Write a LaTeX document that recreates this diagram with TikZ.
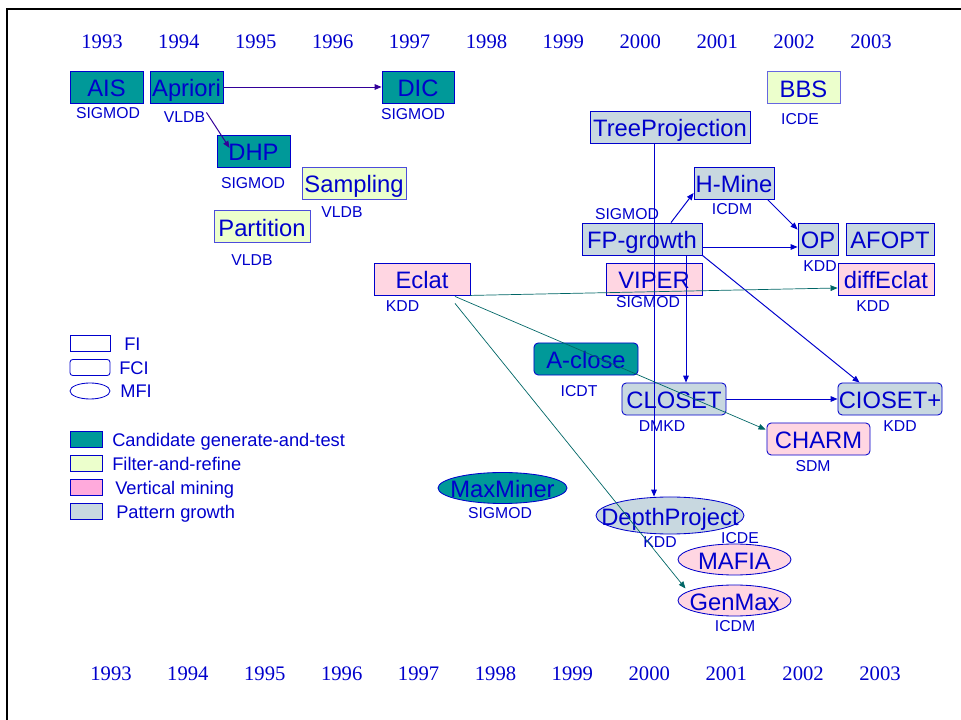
\documentclass[tikz,border=0pt]{standalone}
\usepackage{fontspec}
\setmainfont{Liberation Sans}
\newfontfamily\yearfont{Liberation Serif}
\usetikzlibrary{positioning,arrows.meta,shapes.geometric}

\definecolor{inkblue}{RGB}{0,0,204}
\definecolor{arrowpurple}{RGB}{51,0,153}
\definecolor{arrowteal}{RGB}{0,102,102}
\definecolor{candfill}{RGB}{0,153,153}
\definecolor{filtfill}{RGB}{236,255,204}
\definecolor{vertfill}{RGB}{255,214,226}
\definecolor{vertleg}{RGB}{255,170,220}
\definecolor{growfill}{RGB}{200,216,224}

\begin{document}
\begin{tikzpicture}[
    x=0.025cm, y=-0.025cm,
    % Anni sull'asse
    year/.style={font=\yearfont\fontsize{14.7}{16}\selectfont, text=inkblue, inner sep=0pt},
    % Algoritmi FI (rettangoli)
    fibox/.style={
        rectangle,
        draw=inkblue,
        line width=0.6pt,
        inner sep=0pt,
        minimum height=0.8cm,
        text=inkblue,
        text height=13.6pt, text depth=0pt,
        font=\fontsize{16.9}{18}\selectfont
    },
    % Algoritmi FCI (rettangoli arrotondati)
    fcibox/.style={fibox, rounded corners=3pt},
    % Algoritmi MFI (ellissi)
    mfi/.style={
        ellipse,
        draw=inkblue,
        line width=0.6pt,
        inner sep=0pt,
        minimum height=0.775cm
    },
    every label/.style={text=inkblue, inner sep=0pt, text height=13.6pt, text depth=0pt,
        font=\fontsize{16.9}{18}\selectfont},
    % Conferenze
    venue/.style={font=\fontsize{11.2}{12}\selectfont, text=inkblue, inner sep=0pt},
    % Legenda
    legend/.style={font=\fontsize{13}{14}\selectfont, text=inkblue, inner sep=0pt,
        text height=9.3pt, text depth=0pt, anchor=west},
    swatch/.style={rectangle, draw=inkblue, line width=0.6pt, inner sep=0pt,
        minimum width=0.8cm, minimum height=0.4cm},
    % Frecce
    arrow/.style={->, >={Triangle[length=5pt,width=4pt]}, line width=0.7pt, color=inkblue},
    oldarrow/.style={arrow, color=arrowpurple},
    vertarrow/.style={arrow, color=arrowteal, line width=0.5pt},
    frame/.style={line width=2pt, black}
]
\useasboundingbox (0,0) rectangle (961,720);

% Cornice
\draw[frame] (7,720) -- (7,9) -- (961,9);

% Anni in alto e in basso
\foreach \yr [count=\i from 0] in {1993,...,2003} {
    \node[year] (top\yr) at ({102+76.9*\i},42) {\yr};
    \node[year] (bot\yr) at ({111+76.9*\i},674) {\yr};
}

% Candidate generate-and-test
\node[fibox, fill=candfill, minimum width=1.825cm] (AIS) at (106.5,87) {AIS};
\node[venue] (AISv) at (108,113) {SIGMOD};
\node[fibox, fill=candfill, minimum width=1.825cm] (Apriori) at (186.5,87) {Apriori};
\node[venue] (Aprioriv) at (184.5,117) {VLDB};
\node[fibox, fill=candfill, minimum width=1.8cm] (DIC) at (418,87) {DIC};
\node[venue] (DICv) at (413,114) {SIGMOD};
\node[fibox, fill=candfill, minimum width=1.825cm] (DHP) at (253.5,151) {DHP};
\node[venue] (DHPv) at (253,183) {SIGMOD};
\node[fcibox, fill=candfill, minimum width=2.6cm] (Aclose) at (586,359) {A-close};
\node[venue] (Aclosev) at (579,391) {ICDT};
\node[mfi, fill=candfill, minimum width=3.225cm, label=center:MaxMiner] (MaxMiner) at (502.5,488) {};
\node[venue] (MaxMinerv) at (500,513) {SIGMOD};

% Filter-and-refine
\node[fibox, fill=filtfill, draw=inkblue!70, minimum width=2.6cm] (Sampling) at (354,183) {Sampling};
\node[venue] (Samplingv) at (342,212) {VLDB};
\node[fibox, fill=filtfill, draw=inkblue!70, minimum width=2.4cm] (Partition) at (262,226.5) {Partition};
\node[venue] (Partitionv) at (252,260) {VLDB};
\node[fibox, fill=filtfill, draw=inkblue!60, minimum width=1.825cm] (BBS) at (803.5,87.5) {BBS};
\node[venue] (BBSv) at (800,119) {ICDE};

% Vertical mining
\node[fibox, fill=vertfill, minimum width=2.4cm] (Eclat) at (422,279) {Eclat};
\node[venue] (Eclatv) at (402.5,306) {KDD};
\node[fibox, fill=vertfill, minimum width=2.4cm] (VIPER) at (654,279) {VIPER};
\node[venue] (VIPERv) at (648,302) {SIGMOD};
\node[fibox, fill=vertfill, minimum width=2.4cm] (diffEclat) at (886,279) {diffEclat};
\node[venue] (diffEclatv) at (873,306) {KDD};
\node[fcibox, fill=vertfill, minimum width=2.575cm] (CHARM) at (818.5,439) {CHARM};
\node[venue] (CHARMv) at (813,466) {SDM};
\node[mfi, fill=vertfill, minimum width=2.825cm, label=center:MAFIA] (MAFIA) at (734.5,559.5) {};
\node[venue] (MAFIAv) at (740,538) {ICDE};
\node[mfi, fill=vertfill, minimum width=2.825cm, label=center:GenMax] (GenMax) at (734.5,600.5) {};
\node[venue] (GenMaxv) at (735,626) {ICDM};

% Pattern growth
\node[fibox, fill=growfill, minimum width=4cm] (TreeProjection) at (670,127) {TreeProjection};
\node[fibox, fill=growfill, minimum width=2cm] (HMine) at (734,183) {H-Mine};
\node[venue] (HMinev) at (732,209) {ICDM};
\node[fibox, fill=growfill, minimum width=3cm] (FPgrowth) at (642,239) {FP-growth};
\node[venue] (FPgrowthv) at (627,214) {SIGMOD};
\node[fibox, fill=growfill, minimum width=1cm] (OP) at (818,239) {OP};
\node[venue] (OPv) at (820,266) {KDD};
\node[fibox, fill=growfill, minimum width=2.2cm] (AFOPT) at (890,239) {AFOPT};
\node[fcibox, fill=growfill, minimum width=2.6cm] (CLOSET) at (674,399) {CLOSET};
\node[venue] (CLOSETv) at (662,426) {DMKD};
\node[fcibox, fill=growfill, minimum width=2.6cm] (CLOSETplus) at (890,399) {CIOSET+};
\node[venue] (CLOSETplusv) at (900,426) {KDD};
\node[mfi, fill=growfill, minimum width=3.7cm, minimum height=0.925cm, label=center:DepthProject] (DepthProject) at (670,515.5) {};
\node[venue] (DepthProjectv) at (660,542) {KDD};

% Legenda: tipo di pattern
\node[swatch, minimum width=1cm] (legFI) at (90,343.5) {};
\node[legend] (legFIt) at (124,343.5) {FI};
\node[swatch, minimum width=1cm, rounded corners=2pt] (legFCI) at (90,367.5) {};
\node[legend] (legFCIt) at (119,367.5) {FCI};
\node[swatch, ellipse, minimum width=1cm, minimum height=0.4cm] (legMFI) at (90,391) {};
\node[legend] (legMFIt) at (120,391) {MFI};

% Legenda: metodi
\foreach \col/\txt/\yy/\tx [count=\i] in {
    candfill/Candidate generate-and-test/439.5/112,
    filtfill/Filter-and-refine/463.5/112,
    vertleg/Vertical mining/487.5/115,
    growfill/Pattern growth/511.5/116} {
    \node[swatch, fill=\col] (leg\i) at (86,\yy) {};
    \node[legend] (leg\i t) at (\tx,\yy) {\txt};
}

% Frecce Apriori
\draw[oldarrow] (Apriori) -- (DIC);
\draw[oldarrow] ([shift={(-17,9)}]Apriori.south east) -- ([shift={(13,-3)}]DHP.west);

% Frecce pattern growth
\draw[arrow] ([shift={(-16,0)}]TreeProjection.south) coordinate (tp) -- (tp |- DepthProject.north);
\draw[arrow] ([shift={(29,0)}]FPgrowth.north) -- ([shift={(0,10)}]HMine.west);
\draw[arrow] ([shift={(-7,0)}]HMine.south east) -- ([shift={(0,7)}]OP.north west);
\draw[arrow] ([shift={(0,8)}]FPgrowth.east) -- ([shift={(0,8)}]OP.west);
\draw[arrow] ([shift={(44,0)}]FPgrowth.south) coordinate (fp) -- (fp |- CLOSET.north);
\draw[arrow] (FPgrowth.south east) -- ([shift={(22,0)}]CLOSETplus.north west);
\draw[arrow] (CLOSET) -- (CLOSETplus);

% Frecce vertical mining
\draw[vertarrow] (Eclat.south east) -- ([shift={(0,9)}]diffEclat.west);
\draw[vertarrow] ([shift={(33,1)}]Eclat.south) -- ([shift={(-1,7)}]CHARM.north west);
\draw[vertarrow] ([shift={(33,8)}]Eclat.south) -- ([shift={(-49,-12)}]GenMax.center);

\end{tikzpicture}
\end{document}
